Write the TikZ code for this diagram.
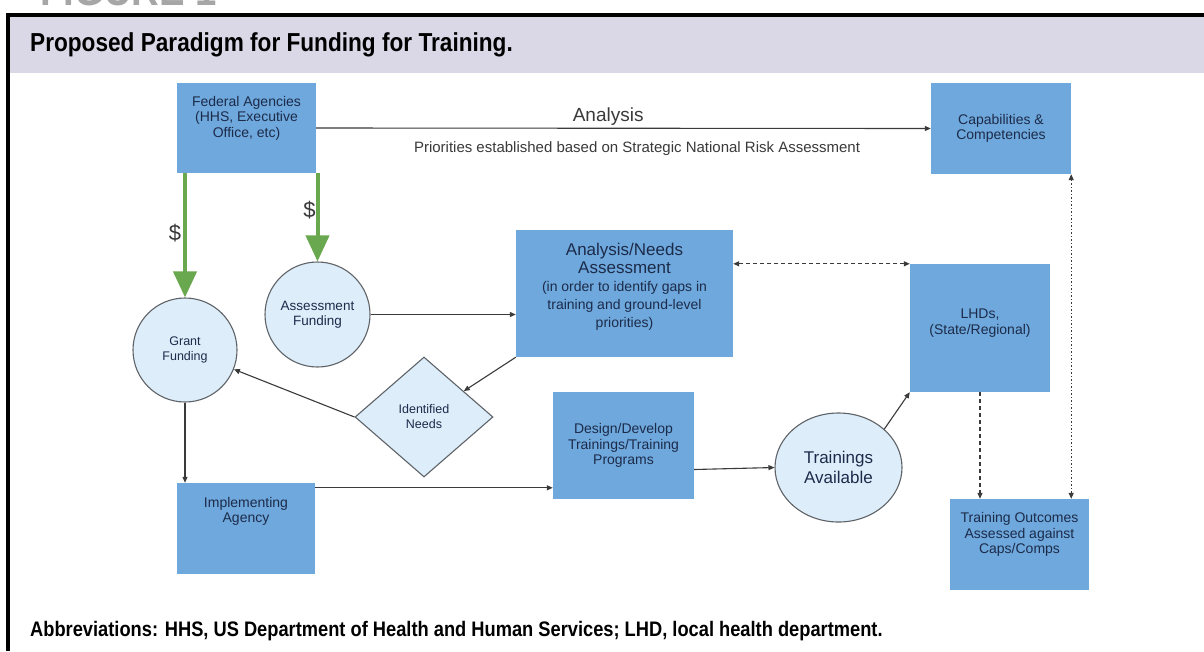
\documentclass[tikz,border=0pt]{standalone}
\usepackage{fontspec}
\setmainfont{Liberation Sans}
\newfontfamily\capsfont[FakeStretch=0.87]{Liberation Sans}
\usetikzlibrary{arrows.meta,shapes.geometric,positioning}
\definecolor{boxblue}{HTML}{6FA8DC}
\definecolor{bubble}{HTML}{DDEEFA}
\definecolor{bubbleline}{HTML}{5F6368}
\definecolor{money}{HTML}{6AA84F}
\definecolor{navy}{HTML}{1C2B4A}
\definecolor{band}{HTML}{DAD8E7}
\definecolor{wire}{HTML}{3A3A3A}
\definecolor{figgray}{HTML}{A6A6A6}
\newcommand\smallline[1]{{\fontsize{14}{15.5}\selectfont #1}}
\tikzset{
  stepbox/.style={fill=boxblue, inner sep=0pt, align=center, text=navy,
    font=\fontsize{14}{15.5}\selectfont},
  boxlabel/.style={inner sep=0pt, align=center, text=navy,
    font=\fontsize{14}{15.5}\selectfont},
  bubble/.style={draw=bubbleline, fill=bubble, line width=1.1pt, inner sep=0pt,
    align=center, text=navy, font=\fontsize{13}{15}\selectfont},
  wire/.style={draw=wire, line width=1.1pt, -{Triangle[length=6pt,width=5pt]}},
  twoway/.style={wire, {Triangle[length=6pt,width=5pt]}-{Triangle[length=6pt,width=5pt]}},
  cash/.style={draw=money, line width=4pt, -{Triangle[length=26pt,width=23pt]}},
  cashtag/.style={inner sep=0pt, text=wire, font=\fontsize{22}{22}\selectfont},
  headtext/.style={inner sep=0pt, font=\capsfont\bfseries\fontsize{26}{26}\selectfont},
  foottext/.style={inner sep=0pt, font=\capsfont\bfseries\fontsize{21}{21}\selectfont}
}
\begin{document}
\begin{tikzpicture}[x=1pt,y=-1pt]
\useasboundingbox (0,0) rectangle (1204,651);
\clip (0,0) rectangle (1204,651);
\fill[white] (0,0) rectangle (1204,651);
\node[headtext, text=figgray, font=\capsfont\bfseries\fontsize{44}{44}\selectfont, anchor=base west] (figtag) at (40,5) {FIGURE 1};
\fill[band] (8,15) rectangle (1204,73);
\draw[line width=4pt] (8,651) -- (8,15) -- (1210,15);
\node[headtext, anchor=base west] (title) at (30,51) {Proposed Paradigm for Funding for Training.};
\node[foottext, anchor=base west] (abbrev) at (30,636) {Abbreviations: HHS, US Department of Health and Human Services; LHD, local health department.};

\node[stepbox, minimum width=139pt, minimum height=90pt,
  label={[boxlabel, yshift=10pt]center:{Federal Agencies\\(HHS, Executive\\Office, etc)}}] (fed) at (246.5,128) {};
\node[stepbox, minimum width=140pt, minimum height=91pt] (caps) at (1001,128.5) {Capabilities \&\\Competencies};
\node[stepbox, minimum width=217pt, minimum height=127pt,
  label={[boxlabel, yshift=7pt, font=\fontsize{17}{18}\selectfont]center:{Analysis/Needs\\Assessment\\\smallline{(in order to identify gaps in}\\\smallline{training and ground-level}\\\smallline{priorities)}}}] (analysis) at (624.5,293.5) {};
\node[stepbox, minimum width=140pt, minimum height=128pt,
  label={[boxlabel, yshift=5pt]center:{LHDs,\\(State/Regional)}}] (lhds) at (980,328) {};
\node[stepbox, minimum width=141pt, minimum height=107pt] (design) at (623.5,445.5) {Design/Develop\\Trainings/Training\\Programs};
\node[stepbox, minimum width=138pt, minimum height=91pt,
  label={[boxlabel, yshift=17pt]center:{Implementing\\Agency}}] (impl) at (246,528.5) {};
\node[stepbox, minimum width=139pt, minimum height=91pt,
  label={[boxlabel, yshift=10pt]center:{Training Outcomes\\Assessed against\\Caps/Comps}}] (outc) at (1019.5,544.5) {};

\node[bubble, circle, minimum size=105pt, font=\fontsize{13.5}{15}\selectfont] (assess) at (317.5,314.5) {Assessment\\Funding};
\node[bubble, circle, minimum size=104pt, font=\fontsize{12.5}{15}\selectfont] (grant) at (185,350) {Grant\\Funding};
\node[bubble, diamond, minimum width=138pt, minimum height=120pt, font=\fontsize{12.5}{15}\selectfont] (needs) at (424,417) {Identified\\Needs};
\node[bubble, ellipse, minimum width=127pt, minimum height=109pt, font=\fontsize{17}{20}\selectfont] (train) at (838.5,467.5) {Trainings\\Available};

\draw[wire] (fed.east) -- (caps.west)
  node[pos=0.475, above=2pt, inner sep=0pt, text=wire, font=\fontsize{19}{19}\selectfont] (analysislbl) {Analysis}
  node[pos=0.522, below=13pt, inner sep=0pt, text=wire, font=\fontsize{15}{15}\selectfont] (prioritylbl) {Priorities established based on Strategic National Risk Assessment};
\draw[cash] (fed.south -| grant.north) -- (grant.north)
  node[pos=0.48, left=2pt, cashtag] (cashleft) {\$};
\draw[cash] (fed.south -| assess.north) -- (assess.north)
  node[pos=0.42, left=0pt, cashtag] (cashright) {\$};
\draw[wire] (assess.east) -- (assess.east -| analysis.west);
\draw[wire] (analysis.south west) -- (needs);
\draw[wire] (needs.west) -- (grant);
\draw[wire] (grant.south) -- (grant.south |- impl.north);
\draw[wire] ([yshift=-5pt]impl.north east) -- ([yshift=-5pt]impl.north east -| design.west);
\draw[wire] ([yshift=-24pt]design.east) -- (train.west);
\draw[wire] (train.40) -- (lhds.south west);
\draw[twoway, dash pattern=on 4pt off 3pt] (lhds.north west) -- (lhds.north west -| analysis.east);
\draw[wire, dash pattern=on 4pt off 3pt] (lhds.south) -- (lhds.south |- outc.north);
\draw[twoway, dash pattern=on 1.5pt off 2pt] (caps.south east) -- (caps.south east |- outc.north);
\end{tikzpicture}
\end{document}
